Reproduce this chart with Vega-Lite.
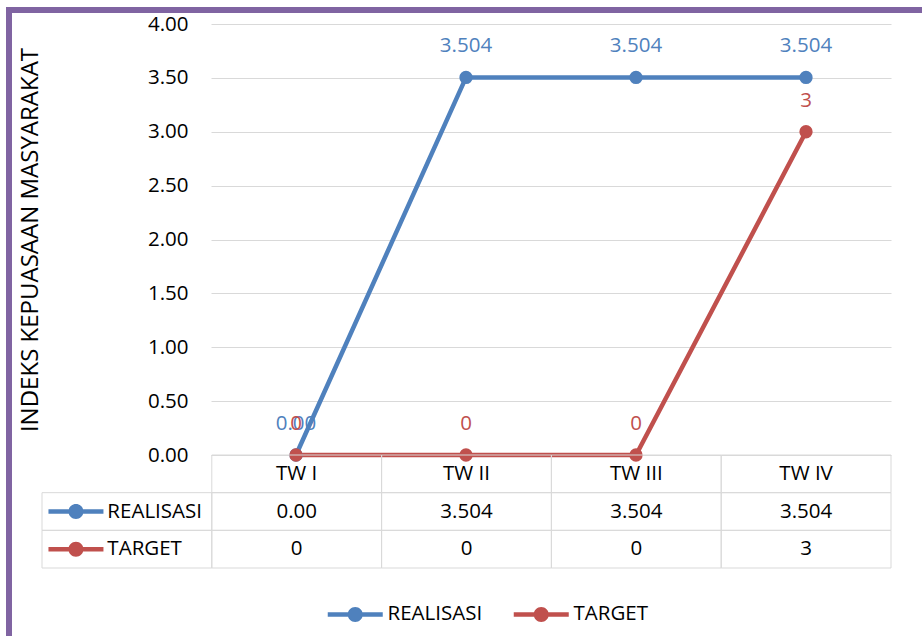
{
  "$schema": "https://vega.github.io/schema/vega-lite/v6.json",
  "width": 916,
  "height": 630,
  "autosize": {"type": "none"},
  "padding": {"left": 9, "top": 10, "right": -3, "bottom": -4},
  "background": "white",
  "config": {
    "view": {"stroke": "#8064A2", "strokeWidth": 6},
    "font": "Open Sans",
    "text": {"font": "Open Sans", "fontSize": 20.5, "color": "#000000"}
  },
  "data": {
    "values": [
      {"quarter": "TW I", "series": "REALISASI", "value": 0, "label": "0.00"},
      {"quarter": "TW II", "series": "REALISASI", "value": 3.504, "label": "3.504"},
      {"quarter": "TW III", "series": "REALISASI", "value": 3.504, "label": "3.504"},
      {"quarter": "TW IV", "series": "REALISASI", "value": 3.504, "label": "3.504"},
      {"quarter": "TW I", "series": "TARGET", "value": 0, "label": "0"},
      {"quarter": "TW II", "series": "TARGET", "value": 0, "label": "0"},
      {"quarter": "TW III", "series": "TARGET", "value": 0, "label": "0"},
      {"quarter": "TW IV", "series": "TARGET", "value": 3, "label": "3"}
    ]
  },
  "layer": [
    {
      "encoding": {
        "x": {"field": "quarter", "type": "nominal", "scale": {"domain": ["TW I", "TW II", "TW III", "TW IV"], "range": [202, 882], "paddingInner": 0, "paddingOuter": 0}, "axis": null},
        "y": {
          "field": "value", "type": "quantitative",
          "scale": {"domain": [0, 4], "range": [445, 14], "nice": false},
          "axis": {
            "values": [0, 0.5, 1, 1.5, 2, 2.5, 3, 3.5, 4],
            "format": ".2f",
            "domain": false,
            "ticks": false,
            "tickSize": 0,
            "labelPadding": 23,
            "offset": -202,
            "grid": true,
            "gridColor": "#d9d9d9",
            "gridWidth": 1,
            "labelFont": "Open Sans",
            "labelFontSize": 20.5,
            "labelColor": "#000000",
            "title": "INDEKS KEPUASAAN MASYARAKAT",
            "titleFont": "Open Sans",
            "titleFontSize": 24,
            "titleFontWeight": "normal",
            "titleColor": "#000000",
            "titlePadding": 105
          }
        },
        "color": {
          "field": "series", "type": "nominal",
          "scale": {"domain": ["REALISASI", "TARGET"], "range": ["#4F81BD", "#C0504D"]},
          "legend": {
            "orient": "none",
            "legendX": 336,
            "legendY": 594,
            "direction": "horizontal",
            "title": null,
            "symbolType": "M-5.5,-0.45H-1.4V0.45H-5.5ZM1.4,-0.45H5.5V0.45H1.4ZM1.5,0A1.5,1.5,0,1,1,-1.5,0A1.5,1.5,0,1,1,1.5,0Z",
            "symbolSize": 100,
            "symbolStrokeWidth": 0,
            "symbolOpacity": 1,
            "labelFont": "Open Sans",
            "labelFontSize": 20.5,
            "labelColor": "#000000",
            "labelOffset": 22,
            "columnPadding": 30,
            "padding": 0,
            "labelLimit": 300
          }
        }
      },
      "layer": [
        {"mark": {"type": "line", "strokeWidth": 4.5}},
        {"mark": {"type": "point", "shape": "circle", "filled": true, "size": 177, "opacity": 1}},
        {"mark": {"type": "text", "dy": -25, "baseline": "alphabetic", "fontSize": 20.5}, "encoding": {"text": {"field": "label"}}}
      ]
    },
    {
      "encoding": {
        "x": {"field": "quarter", "type": "nominal", "scale": {"domain": ["SERI", "TW I", "TW II", "TW III", "TW IV"], "range": [33, 882], "paddingInner": 0, "paddingOuter": 0}, "axis": null},
        "y": {"field": "series", "type": "nominal", "scale": {"domain": ["HEADER", "REALISASI", "TARGET"], "range": [445, 558], "paddingInner": 0, "paddingOuter": 0}, "axis": null}
      },
      "layer": [
        {"mark": {"type": "rect", "filled": false, "stroke": "#d9d9d9", "strokeWidth": 1}},
        {
          "transform": [{"filter": "datum.series == 'REALISASI'"}],
          "mark": {"type": "rect", "filled": false, "stroke": "#d9d9d9", "strokeWidth": 1},
          "encoding": {"y": {"datum": "HEADER", "type": "nominal"}}
        },
        {
          "transform": [{"filter": "datum.quarter == 'TW I'"}],
          "mark": {"type": "rect", "filled": false, "stroke": "#d9d9d9", "strokeWidth": 1},
          "encoding": {"x": {"datum": "SERI", "type": "nominal"}}
        },
        {
          "transform": [{"filter": "datum.series == 'REALISASI'"}],
          "mark": {"type": "text", "baseline": "middle", "color": "#000000"},
          "encoding": {"y": {"datum": "HEADER", "type": "nominal"}, "text": {"field": "quarter"}}
        },
        {
          "mark": {"type": "text", "baseline": "middle", "color": "#000000"},
          "encoding": {"text": {"field": "label"}}
        },
        {
          "transform": [{"filter": "datum.quarter == 'TW I'"}],
          "mark": {"type": "text", "baseline": "middle", "align": "left", "color": "#000000"},
          "encoding": {"x": {"datum": "SERI", "type": "nominal", "bandPosition": 0.385}, "text": {"field": "series"}}
        },
        {
          "transform": [{"filter": "datum.quarter == 'TW I'"}],
          "mark": {"type": "point", "shape": "M-5.5,-0.45H-1.4V0.45H-5.5ZM1.4,-0.45H5.5V0.45H1.4ZM1.5,0A1.5,1.5,0,1,1,-1.5,0A1.5,1.5,0,1,1,1.5,0Z", "filled": true, "size": 100, "opacity": 1},
          "encoding": {"x": {"datum": "SERI", "type": "nominal", "bandPosition": 0.2}, "color": {"field": "series", "type": "nominal"}}
        }
      ]
    }
  ],
  "resolve": {"scale": {"x": "independent", "y": "independent"}}
}
